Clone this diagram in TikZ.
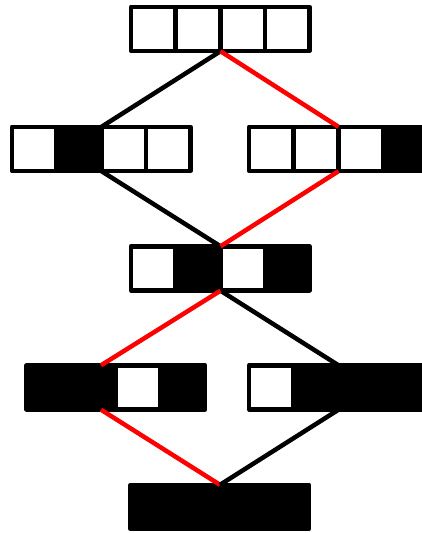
\documentclass[tikz,border=0pt]{standalone}
\usetikzlibrary{positioning}

% one row of four cells, named #1, centred at #2, fills #3
\newcommand{\drawboard}[3]{%
  \node[board] (#1) at (#2) {};
  \foreach \fc [count=\i from 0] in {#3}
    \draw[cell, fill=\fc] ([xshift=\i*44.625pt]#1.north west) rectangle ++(44.625,-44);
}

\begin{document}
\begin{tikzpicture}[x=1pt, y=1pt,
    board/.style={inner sep=0pt, minimum width=178.5pt, minimum height=44pt},
    cell/.style={draw, line width=4.5pt, line join=round},
    link/.style={line width=4.5pt}]

  \useasboundingbox (0,0) rectangle (422,-533);
  \clip (0,0) rectangle (422,-533);

  \drawboard{top}{220.5,-29}{white,white,white,white}
  \drawboard{midL}{101.5,-149}{white,black,white,white}
  \drawboard{midR}{338.5,-149}{white,white,white,black}
  \drawboard{ctr}{220.5,-268.5}{white,black,white,black}
  \drawboard{lowL}{116,-387.5}{black,black,white,black}
  \drawboard{lowR}{338.5,-387.5}{white,black,black,black}
  \drawboard{bot}{220,-507}{black,black,black,black}

  \draw[link] (top.south) -- (midL.north);
  \draw[link, red] (top.south) -- (midR.north);

  \draw[link] (midL.south) -- (ctr.north);
  \draw[link, red] (midR.south) -- (ctr.north);

  \draw[link] (ctr.south) -- (lowR.north);
  \draw[link, red] (ctr.south) -- ([xshift=-15pt]lowL.north);

  \draw[link, red] ([xshift=-15pt]lowL.south) -- (bot.north);
  \draw[link] (lowR.south) -- (bot.north);

\end{tikzpicture}
\end{document}
